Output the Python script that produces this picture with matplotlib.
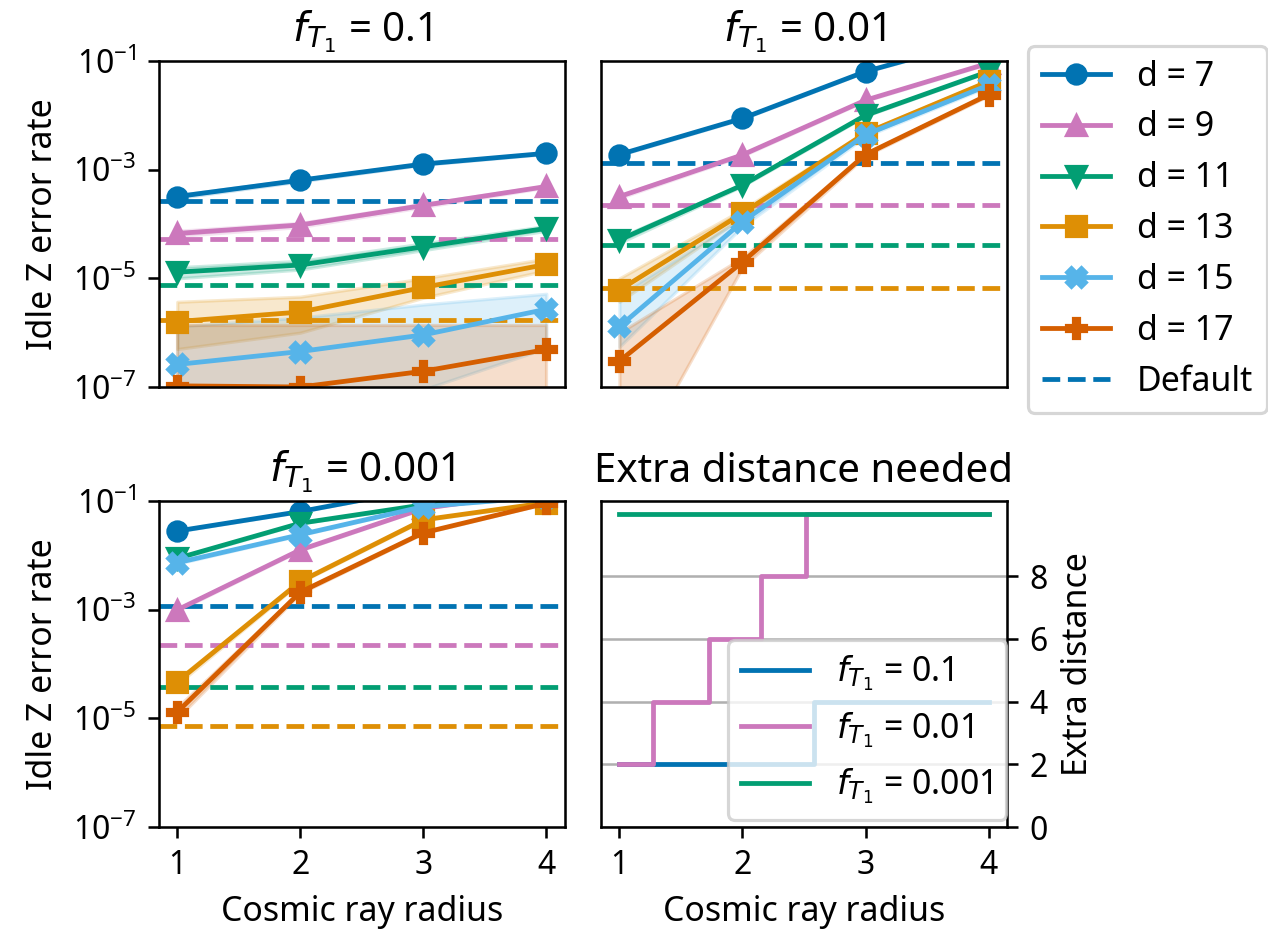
import matplotlib
matplotlib.use('Agg')
import matplotlib.pyplot as plt
from matplotlib.lines import Line2D
from matplotlib.ticker import NullLocator

plt.rcParams['font.family'] = ['Noto Sans', 'DejaVu Sans']

radius = [1, 2, 3, 4]
distances = [7, 9, 11, 13, 15, 17]
colors = ['#0173b2', '#cc78bc', '#029e73', '#de8f05', '#56b4e9', '#d55e00']
markers = ['o', '^', 'v', 's', 'X', 'P']

# f_T1 = 0.1
rate_f01 = [[3.2e-4, 6.4e-4, 1.27e-3, 2.0e-3],
            [6.7e-5, 9.6e-5, 2.2e-4, 4.9e-4],
            [1.3e-5, 1.76e-5, 3.8e-5, 8.3e-5],
            [1.6e-6, 2.4e-6, 6.8e-6, 1.8e-5],
            [2.6e-7, 4.5e-7, 9.1e-7, 2.7e-6],
            [1.05e-7, 1.0e-7, 1.95e-7, 4.9e-7]]
lo_f01 = [[3.0e-4, 6.1e-4, 1.23e-3, 1.95e-3],
          [6.0e-5, 8.8e-5, 2.05e-4, 4.7e-4],
          [1.0e-5, 1.45e-5, 3.3e-5, 7.5e-5],
          [5e-7, 1.0e-6, 4.4e-6, 1.4e-5],
          [1e-9, 1e-9, 9e-8, 5.2e-7],
          [1e-9, 1e-9, 1e-9, 1e-9]]
hi_f01 = [[3.4e-4, 6.7e-4, 1.31e-3, 2.05e-3],
          [7.5e-5, 1.05e-4, 2.35e-4, 5.1e-4],
          [1.6e-5, 2.1e-5, 4.4e-5, 9.2e-5],
          [3.7e-6, 4.6e-6, 1.0e-5, 2.3e-5],
          [1.3e-6, 1.9e-6, 3.3e-6, 5.2e-6],
          [1.4e-6, 1.4e-6, 1.4e-6, 1.4e-6]]
default_f01 = [2.65e-4, 5.3e-5, 7.4e-6, 1.7e-6]

# f_T1 = 0.01
rate_f001 = [[1.9e-3, 8.8e-3, 6.4e-2, 0.27],
             [3.2e-4, 1.87e-3, 1.9e-2, 9.1e-2],
             [5.1e-5, 5.2e-4, 1.0e-2, 6.4e-2],
             [6.1e-6, 1.58e-4, 4.7e-3, 4.2e-2],
             [1.3e-6, 1.1e-4, 4.4e-3, 3.6e-2],
             [3.0e-7, 2.0e-5, 1.9e-3, 2.4e-2]]
lo_f001 = [[1.85e-3, 8.6e-3, 6.3e-2, 0.26],
           [3.0e-4, 1.8e-3, 1.85e-2, 8.9e-2],
           [4.5e-5, 5.0e-4, 9.7e-3, 6.3e-2],
           [3.7e-6, 1.35e-4, 4.4e-3, 4.0e-2],
           [5.5e-7, 9e-5, 4.1e-3, 3.4e-2],
           [1.3e-9, 1.6e-5, 1.8e-3, 2.3e-2]]
hi_f001 = [[1.95e-3, 9.0e-3, 6.5e-2, 0.28],
           [3.4e-4, 1.94e-3, 1.95e-2, 9.3e-2],
           [5.7e-5, 5.4e-4, 1.03e-2, 6.5e-2],
           [1.0e-5, 1.85e-4, 5.0e-3, 4.4e-2],
           [5.0e-6, 1.3e-4, 4.7e-3, 3.8e-2],
           [1.0e-6, 2.4e-5, 2.0e-3, 2.5e-2]]
default_f001 = [1.31e-3, 2.24e-4, 4.1e-5, 6.7e-6]

# f_T1 = 0.001
rate_f0001 = [[2.8e-2, 6.4e-2, 0.17, 0.3],
              [9.9e-4, 1.26e-2, 7.3e-2, 0.15],
              [8.8e-3, 3.9e-2, 8.5e-2, 0.15],
              [4.7e-5, 3.3e-3, 4.5e-2, 9.3e-2],
              [7.3e-3, 2.4e-2, 7.9e-2, 0.12],
              [1.3e-5, 2.1e-3, 2.6e-2, 9.1e-2]]
lo_f0001 = [[2.75e-2, 6.3e-2, 0.168, 0.29],
            [9.5e-4, 1.23e-2, 7.2e-2, 0.148],
            [8.5e-3, 3.85e-2, 8.4e-2, 0.148],
            [4.2e-5, 3.2e-3, 4.4e-2, 9.2e-2],
            [7.0e-3, 2.35e-2, 7.8e-2, 0.118],
            [1.0e-5, 2.0e-3, 2.55e-2, 9.0e-2]]
hi_f0001 = [[2.85e-2, 6.5e-2, 0.172, 0.31],
            [1.03e-3, 1.29e-2, 7.4e-2, 0.152],
            [9.1e-3, 3.95e-2, 8.6e-2, 0.152],
            [5.2e-5, 3.4e-3, 4.6e-2, 9.4e-2],
            [7.6e-3, 2.45e-2, 8.0e-2, 0.122],
            [1.6e-5, 2.2e-3, 2.65e-2, 9.2e-2]]
default_f0001 = [1.18e-3, 2.24e-4, 3.8e-5, 7.3e-6]

# extra distance needed (step curves)
extra_x_f01 = [1, 2.58, 4]
extra_y_f01 = [2, 4, 4]
extra_x_f001 = [1, 1.27, 1.73, 2.15, 2.52, 4]
extra_y_f001 = [2, 4, 6, 8, 10, 10]
extra_x_f0001 = [1, 4]
extra_y_f0001 = [10, 10]


def plot_panel(ax, rates, lo, hi, defaults, title):
    for i in range(len(defaults)):
        ax.axhline(defaults[i], color=colors[i], ls='--', zorder=1.5)
    for i, d in enumerate(distances):
        ax.fill_between(radius, lo[i], hi[i], color=colors[i], alpha=0.2)
        ax.plot(radius, rates[i], color=colors[i], marker=markers[i],
                label='d = {}'.format(d))
    ax.set_yscale('log')
    ax.set_ylim(1e-7, 1e-1)
    ax.set_yticks([1e-7, 1e-5, 1e-3, 1e-1])
    ax.yaxis.set_minor_locator(NullLocator())
    ax.set_xticks(radius)
    ax.set_title(title, fontsize=12.6)


fig = plt.figure(figsize=(1268 / 230, 930 / 230), dpi=230)
W, H = 1268, 930
ax_tl = fig.add_axes([158.8 / W, 1 - 387 / H, 406 / W, 326 / H])
ax_tr = fig.add_axes([601 / W, 1 - 387 / H, 406 / W, 326 / H])
ax_bl = fig.add_axes([158.8 / W, 1 - 827 / H, 406 / W, 326 / H])
ax_br = fig.add_axes([601 / W, 1 - 827 / H, 406 / W, 326 / H])

plot_panel(ax_tl, rate_f01, lo_f01, hi_f01, default_f01, r'$f_{T_1}$ = 0.1')
plot_panel(ax_tr, rate_f001, lo_f001, hi_f001, default_f001, r'$f_{T_1}$ = 0.01')
plot_panel(ax_bl, rate_f0001, lo_f0001, hi_f0001, default_f0001, r'$f_{T_1}$ = 0.001')

ax_tl.tick_params(axis='x', bottom=False, labelbottom=False)
ax_tr.tick_params(axis='both', bottom=False, labelbottom=False, left=False, labelleft=False)
ax_tl.set_ylabel('Idle Z error rate', fontsize=10.6)
ax_bl.set_ylabel('Idle Z error rate', fontsize=10.6)
ax_bl.set_xlabel('Cosmic ray radius', fontsize=10.6)

# extra distance panel
ax_br.plot(extra_x_f01, extra_y_f01, drawstyle='steps-post', color=colors[0], label=r'$f_{T_1}$ = 0.1')
ax_br.plot(extra_x_f001, extra_y_f001, drawstyle='steps-post', color=colors[1], label=r'$f_{T_1}$ = 0.01')
ax_br.plot(extra_x_f0001, extra_y_f0001, drawstyle='steps-post', color=colors[2], label=r'$f_{T_1}$ = 0.001')
ax_br.set_xlim(0.85, 4.15)
ax_br.set_ylim(0, 10.4)
ax_br.set_xticks(radius)
ax_br.set_yticks([0, 2, 4, 6, 8])
ax_br.yaxis.tick_right()
ax_br.yaxis.set_label_position('right')
ax_br.grid(axis='y')
ax_br.set_ylabel('Extra distance', fontsize=10.6)
ax_br.set_xlabel('Cosmic ray radius', fontsize=10.6)
ax_br.set_title('Extra distance needed', fontsize=12.6)
ax_br.legend(loc='lower right', bbox_to_anchor=(1006.5 / W, 1 - 820 / H),
             bbox_transform=fig.transFigure, borderaxespad=0, fontsize=10.6)

handles, labels = ax_tr.get_legend_handles_labels()
handles.append(Line2D([], [], color=colors[0], ls='--'))
labels.append('Default')
fig.legend(handles, labels, loc='upper left', bbox_to_anchor=(1028.4 / W, 1 - 46 / H),
           borderaxespad=0, fontsize=10.6)

fig.savefig('out.png', dpi=230)
